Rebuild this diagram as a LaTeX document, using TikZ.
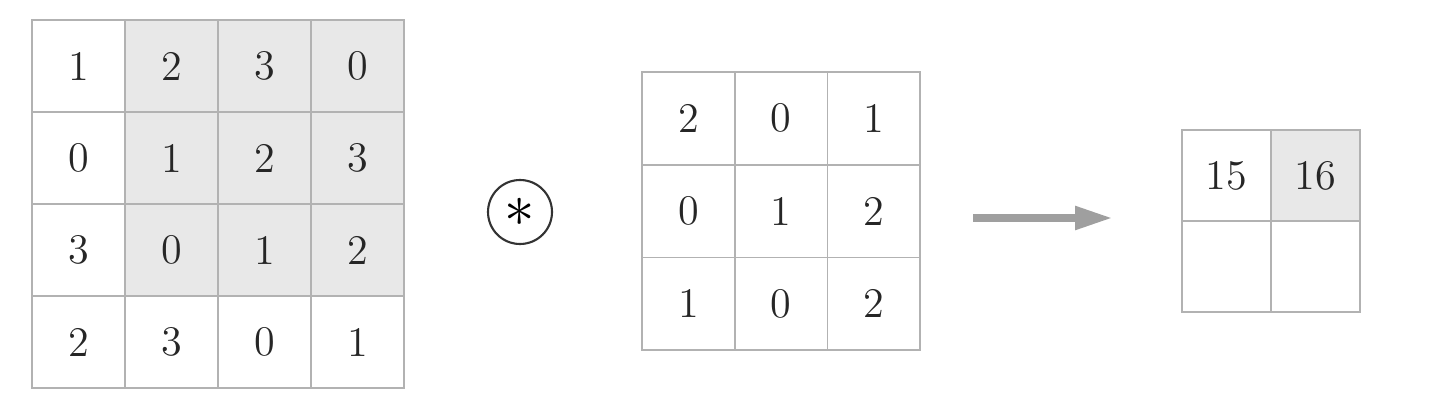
\documentclass[tikz,border=0pt]{standalone}
\usepackage{amsmath}
\usepackage{amssymb}
\usepackage{tikz}
\usepackage{xcolor}
\usetikzlibrary{arrows.meta, positioning, calc}

\tikzset{
  cell/.style={draw=gray!60, line width=0.5pt, minimum width=0.93cm, minimum height=0.92cm, inner sep=0pt, text=black!85, font=\fontsize{12}{14}\selectfont},
  kcell/.style={cell, minimum width=0.927cm, minimum height=0.927cm},
  ocell/.style={cell, minimum width=0.89cm, minimum height=0.91cm},
  shaded/.style={fill=gray!18}
}

\begin{document}
\begin{tikzpicture}
\useasboundingbox (0,0) rectangle (14.36,-4.16);
% Input data 4x4
\node[cell] (i11) at (0.785,-0.66) {1};
\node[cell, shaded] (i12) at (1.715,-0.66) {2};
\node[cell, shaded] (i13) at (2.645,-0.66) {3};
\node[cell, shaded] (i14) at (3.575,-0.66) {0};

\node[cell] (i21) at (0.785,-1.58) {0};
\node[cell, shaded] (i22) at (1.715,-1.58) {1};
\node[cell, shaded] (i23) at (2.645,-1.58) {2};
\node[cell, shaded] (i24) at (3.575,-1.58) {3};

\node[cell] (i31) at (0.785,-2.50) {3};
\node[cell, shaded] (i32) at (1.715,-2.50) {0};
\node[cell, shaded] (i33) at (2.645,-2.50) {1};
\node[cell, shaded] (i34) at (3.575,-2.50) {2};

\node[cell] (i41) at (0.785,-3.42) {2};
\node[cell] (i42) at (1.715,-3.42) {3};
\node[cell] (i43) at (2.645,-3.42) {0};
\node[cell] (i44) at (3.575,-3.42) {1};

% Convolution operator
\node[draw=black!80, line width=0.6pt, circle, minimum size=0.64cm, inner sep=0pt, font=\fontsize{17}{20}\selectfont] (conv) at (5.20,-2.12) {$\ast$};

% Filter 3x3
\node[kcell] (k11) at (6.884,-1.184) {2};
\node[kcell] (k12) at (7.811,-1.184) {0};
\node[kcell] (k13) at (8.738,-1.184) {1};

\node[kcell] (k21) at (6.884,-2.111) {0};
\node[kcell] (k22) at (7.811,-2.111) {1};
\node[kcell] (k23) at (8.738,-2.111) {2};

\node[kcell] (k31) at (6.884,-3.038) {1};
\node[kcell] (k32) at (7.811,-3.038) {0};
\node[kcell] (k33) at (8.738,-3.038) {2};

% Output 2x2
\node[ocell] (o11) at (12.265,-1.755) {15};
\node[ocell, shaded] (o12) at (13.155,-1.755) {16};
\node[ocell] (o21) at (12.265,-2.665) {};
\node[ocell] (o22) at (13.155,-2.665) {};

\coordinate (arrowstart) at (9.73,-2.18);
\coordinate (arrowend) at (11.13,-2.18);
\draw[-{Triangle[length=0.38cm, width=0.22cm]}, gray!75, line width=2.3pt] (arrowstart) -- (arrowend);
\end{tikzpicture}
\end{document}
